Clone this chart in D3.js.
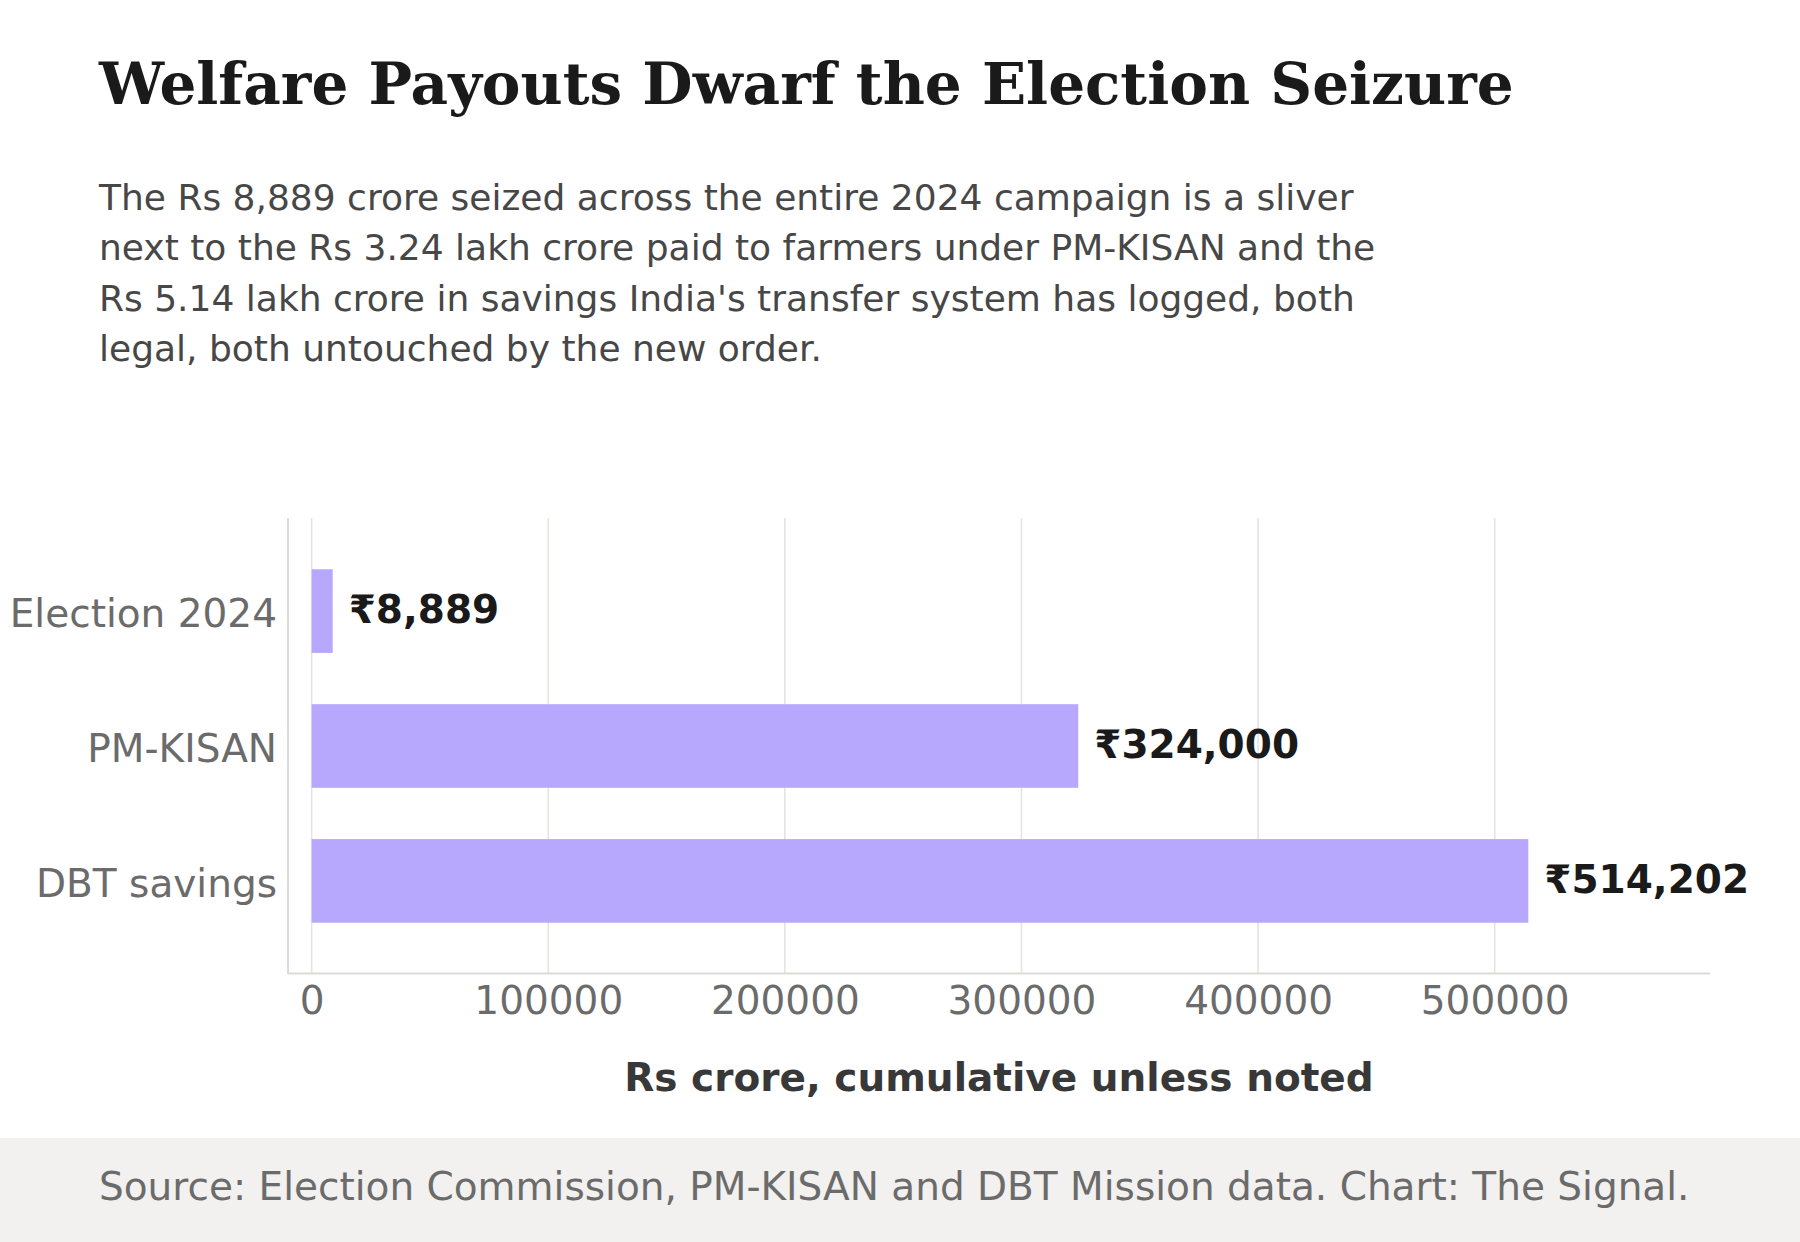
<!DOCTYPE html>
<html>
<head>
<meta charset="utf-8">
<title>Welfare Payouts Dwarf the Election Seizure</title>
<script src="https://cdn.jsdelivr.net/npm/d3@7"></script>
<style>
  body { margin: 0; background: #fff; }
  svg { display: block; }
</style>
</head>
<body>
<div id="chart"></div>
<script>
// data
var categories = ["Election 2024", "PM-KISAN", "DBT savings"];
var values = [8889, 324000, 514202];
var xTicks = [0, 100000, 200000, 300000, 400000, 500000];

var titleText = "Welfare Payouts Dwarf the Election Seizure";
var subtitleLines = [
	"The Rs 8,889 crore seized across the entire 2024 campaign is a sliver",
	"next to the Rs 3.24 lakh crore paid to farmers under PM-KISAN and the",
	"Rs 5.14 lakh crore in savings India's transfer system has logged, both",
	"legal, both untouched by the new order."
];
var axisTitle = "Rs crore, cumulative unless noted";
var sourceText = "Source: Election Commission, PM-KISAN and DBT Mission data. Chart: The Signal.";

//Width and height
var w = 1800;
var h = 1242;
var plot = { left: 288, right: 1710, top: 518, bottom: 974 };
var sans = "'DejaVu Sans', 'Noto Sans', sans-serif";

var svg = d3.select("#chart")
			.append("svg")
			.attr("width", w)
			.attr("height", h);

// title + subtitle
svg.append("text")
   .attr("x", 99)
   .attr("y", 104)
   .attr("font-family", "'DejaVu Serif', serif")
   .attr("font-weight", "bold")
   .attr("font-size", "58px")
   .attr("fill", "#1a1a1a")
   .text(titleText);

svg.selectAll("text.sub")
   .data(subtitleLines)
   .enter()
   .append("text")
   .attr("class", "sub")
   .attr("x", 99)
   .attr("y", function(d, i) { return 209.5 + i * 50.6; })
   .attr("font-family", sans)
   .attr("font-size", "36px")
   .attr("fill", "#474747")
   .text(function(d) { return d; });

// scales
var x = d3.scaleLinear()
		  .domain([-10000, 591000])
		  .range([plot.left, plot.right]);

var y = d3.scaleBand()
		  .domain(categories)
		  .range([plot.top, plot.bottom])
		  .padding(0.38);

// gridlines
svg.selectAll("line.grid")
   .data(xTicks)
   .enter()
   .append("line")
   .attr("class", "grid")
   .attr("x1", function(d) { return x(d); })
   .attr("x2", function(d) { return x(d); })
   .attr("y1", plot.top)
   .attr("y2", plot.bottom)
   .attr("stroke", "#e4e4e0")
   .attr("stroke-width", 1.6);

// axis lines
svg.append("line")
   .attr("x1", plot.left).attr("x2", plot.left)
   .attr("y1", plot.top).attr("y2", plot.bottom)
   .attr("stroke", "#dcdcd6")
   .attr("stroke-width", 2);

svg.append("line")
   .attr("x1", plot.left).attr("x2", plot.right)
   .attr("y1", plot.bottom - 0.5).attr("y2", plot.bottom - 0.5)
   .attr("stroke", "#dcdcd6")
   .attr("stroke-width", 2);

// bars
svg.selectAll("rect.bar")
   .data(values)
   .enter()
   .append("rect")
   .attr("class", "bar")
   .attr("x", x(0))
   .attr("y", function(d, i) { return y(categories[i]); })
   .attr("width", function(d) { return x(d) - x(0); })
   .attr("height", y.bandwidth())
   .attr("fill", "#b8a8fd");

// value labels
var fmt = d3.format(",");
svg.selectAll("text.val")
   .data(values)
   .enter()
   .append("text")
   .attr("class", "val")
   .attr("x", function(d) { return x(d) + 16; })
   .attr("y", function(d, i) { return y(categories[i]) + y.bandwidth() / 2; })
   .attr("dy", "0.31em")
   .attr("font-family", sans)
   .attr("font-weight", "bold")
   .attr("font-size", "39px")
   .attr("fill", "#1a1a1a")
   .text(function(d) { return "\u20B9" + fmt(d); });

// x axis
var xAxis = d3.axisBottom(x)
			  .tickValues(xTicks)
			  .tickFormat(d3.format("d"))
			  .tickSize(0)
			  .tickPadding(12);

var gx = svg.append("g")
			.attr("transform", "translate(0," + plot.bottom + ")")
			.call(xAxis);
gx.select(".domain").remove();
gx.selectAll("text")
  .attr("font-family", sans)
  .attr("font-size", "39px")
  .attr("fill", "#6b6b6b");

// y axis
var yAxis = d3.axisLeft(y)
			  .tickSize(0)
			  .tickPadding(11);

var gy = svg.append("g")
			.attr("transform", "translate(" + plot.left + ",0)")
			.call(yAxis);
gy.select(".domain").remove();
gy.selectAll("text")
  .attr("font-family", sans)
  .attr("font-size", "39px")
  .attr("dy", "0.41em")
  .attr("fill", "#6b6b6b");

// axis title
svg.append("text")
   .attr("x", (plot.left + plot.right) / 2)
   .attr("y", 1091)
   .attr("text-anchor", "middle")
   .attr("font-family", sans)
   .attr("font-weight", "bold")
   .attr("font-size", "39px")
   .attr("fill", "#383838")
   .text(axisTitle);

// footer
svg.append("rect")
   .attr("x", 0)
   .attr("y", 1138)
   .attr("width", w)
   .attr("height", h - 1138)
   .attr("fill", "#f2f1ef");

svg.append("text")
   .attr("x", 99)
   .attr("y", 1200)
   .attr("font-family", sans)
   .attr("font-size", "39px")
   .attr("fill", "#6b6b6b")
   .text(sourceText);
</script>
</body>
</html>
